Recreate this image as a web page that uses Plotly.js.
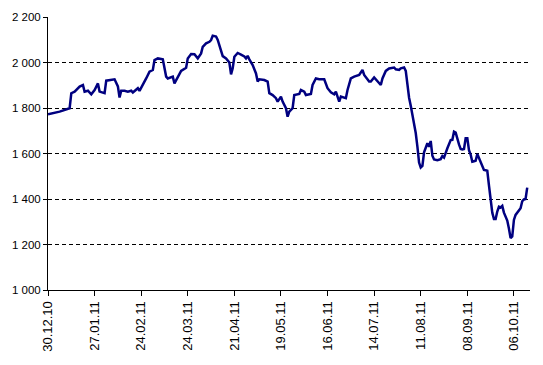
<!DOCTYPE html>
<html>
<head>
<meta charset="utf-8">
<script src="https://cdn.plot.ly/plotly-3.0.1.min.js"></script>
<style>
html,body{margin:0;padding:0;background:#fff;}
#chart{width:543px;height:365px;}
</style>
</head>
<body>
<div id="chart"></div>
<script>
const dates = [
'2010-12-30','2011-01-06','2011-01-12','2011-01-13','2011-01-15','2011-01-18','2011-01-20','2011-01-21','2011-01-23','2011-01-25',
'2011-01-27','2011-01-29','2011-01-30','2011-02-02','2011-02-03','2011-02-05','2011-02-08','2011-02-10','2011-02-11','2011-02-12',
'2011-02-14','2011-02-16','2011-02-18','2011-02-19','2011-02-21','2011-02-22','2011-02-23','2011-02-25','2011-02-27','2011-03-01',
'2011-03-03','2011-03-04','2011-03-06','2011-03-09','2011-03-11','2011-03-12','2011-03-15','2011-03-16','2011-03-18','2011-03-20',
'2011-03-23','2011-03-24','2011-03-26','2011-03-28','2011-03-30','2011-04-01','2011-04-02','2011-04-04','2011-04-06','2011-04-07',
'2011-04-08','2011-04-10','2011-04-11','2011-04-13','2011-04-14','2011-04-16','2011-04-18','2011-04-19','2011-04-20','2011-04-21',
'2011-04-23','2011-04-25','2011-04-27','2011-04-28','2011-04-29','2011-04-30','2011-05-02','2011-05-04','2011-05-05','2011-05-06',
'2011-05-09','2011-05-11','2011-05-12','2011-05-14','2011-05-16','2011-05-17','2011-05-19','2011-05-20','2011-05-22','2011-05-23',
'2011-05-24','2011-05-26','2011-05-27','2011-05-30','2011-05-31','2011-06-02','2011-06-03','2011-06-06','2011-06-07','2011-06-09',
'2011-06-11','2011-06-14','2011-06-16','2011-06-18','2011-06-20','2011-06-21','2011-06-23','2011-06-24','2011-06-27','2011-06-28',
'2011-06-30','2011-07-02','2011-07-05','2011-07-07','2011-07-08','2011-07-11','2011-07-12','2011-07-14','2011-07-16','2011-07-18',
'2011-07-19','2011-07-21','2011-07-23','2011-07-26','2011-07-27','2011-07-29','2011-07-30','2011-08-01','2011-08-02','2011-08-03',
'2011-08-04','2011-08-05','2011-08-06','2011-08-07','2011-08-08','2011-08-09','2011-08-10','2011-08-11','2011-08-12','2011-08-13',
'2011-08-14','2011-08-15','2011-08-16','2011-08-17','2011-08-18','2011-08-19','2011-08-21','2011-08-22','2011-08-23','2011-08-24',
'2011-08-25','2011-08-27','2011-08-28','2011-08-29','2011-08-30','2011-08-31','2011-09-01','2011-09-02','2011-09-03','2011-09-04',
'2011-09-05','2011-09-06','2011-09-07','2011-09-08','2011-09-09','2011-09-10','2011-09-11','2011-09-12','2011-09-13','2011-09-14',
'2011-09-15','2011-09-16','2011-09-17','2011-09-18','2011-09-19','2011-09-20','2011-09-21','2011-09-22','2011-09-23','2011-09-24',
'2011-09-25','2011-09-26','2011-09-27','2011-09-28','2011-09-29','2011-09-30','2011-10-01','2011-10-02','2011-10-03','2011-10-04',
'2011-10-05','2011-10-06','2011-10-07','2011-10-08','2011-10-09','2011-10-10','2011-10-11','2011-10-12','2011-10-13','2011-10-14'
];
const values = [
1772,1784,1799,1865,1872,1894,1901,1872,1876,1860,
1879,1908,1872,1865,1920,1923,1926,1895,1846,1876,
1876,1872,1876,1868,1880,1887,1875,1901,1930,1960,
1967,2011,2018,2014,1938,1930,1938,1908,1938,1963,
1977,2018,2037,2036,2018,2040,2069,2084,2091,2099,
2118,2114,2099,2055,2028,2018,2000,1948,1975,2025,
2042,2035,2027,2018,2029,2014,1989,1952,1916,1926,
1923,1916,1865,1857,1843,1828,1850,1828,1799,1762,
1784,1799,1857,1862,1879,1872,1857,1862,1901,1930,
1926,1926,1887,1869,1860,1872,1828,1850,1843,1879,
1930,1938,1945,1967,1945,1916,1916,1934,1919,1901,
1930,1963,1974,1978,1970,1967,1974,1978,1963,1900,
1845,1810,1775,1735,1690,1630,1560,1538,1545,1605,
1625,1645,1630,1655,1590,1574,1571,1572,1575,1589,
1582,1623,1640,1659,1660,1696,1692,1660,1640,1620,
1618,1620,1667,1667,1615,1595,1564,1566,1568,1598,
1579,1558,1540,1528,1526,1524,1460,1388,1340,1312,
1312,1345,1366,1363,1370,1340,1325,1305,1270,1228,
1235,1308,1330,1340,1352,1359,1390,1398,1400,1450
];
const tickDates = ['2010-12-30','2011-01-27','2011-02-24','2011-03-24','2011-04-21','2011-05-19','2011-06-16','2011-07-14','2011-08-11','2011-09-08','2011-10-06'];
const tickLabels = ['30.12.10','27.01.11','24.02.11','24.03.11','21.04.11','19.05.11','16.06.11','14.07.11','11.08.11','08.09.11','06.10.11'];
const yTicks = [1000,1200,1400,1600,1800,2000,2200];

const trace = {
  x: dates, y: values, type: 'scatter', mode: 'lines',
  line: {color: '#000080', width: 2.5},
  hoverinfo: 'none'
};
const layout = {
  width: 543, height: 365,
  margin: {l: 48, r: 13, t: 17, b: 75, pad: 0},
  paper_bgcolor: '#fff', plot_bgcolor: '#fff',
  separators: ', ',
  font: {family: 'Liberation Sans, Arial, sans-serif', size: 11, color: '#000'},
  showlegend: false,
  xaxis: {
    type: 'date',
    range: ['2010-12-30', '2011-10-15 16:00'],
    tickvals: tickDates, ticktext: tickLabels,
    tickangle: -90,
    ticks: 'outside', ticklen: 5, tickwidth: 1, tickcolor: '#000',
    showline: true, linecolor: '#000', linewidth: 1,
    showgrid: false, zeroline: false,
    tickfont: {size: 13, color: '#000'}
  },
  yaxis: {
    range: [1000, 2200],
    tickvals: yTicks, tickformat: ',d',
    ticks: 'outside', ticklen: 4, tickwidth: 1, tickcolor: '#000',
    showline: true, linecolor: '#000', linewidth: 1,
    showgrid: true, gridcolor: '#000', gridwidth: 1, griddash: '4px,3px',
    zeroline: false,
    tickfont: {size: 11.5, color: '#000'}
  }
};
Plotly.newPlot('chart', [trace], layout, {staticPlot: true, displayModeBar: false});
</script>
</body>
</html>
